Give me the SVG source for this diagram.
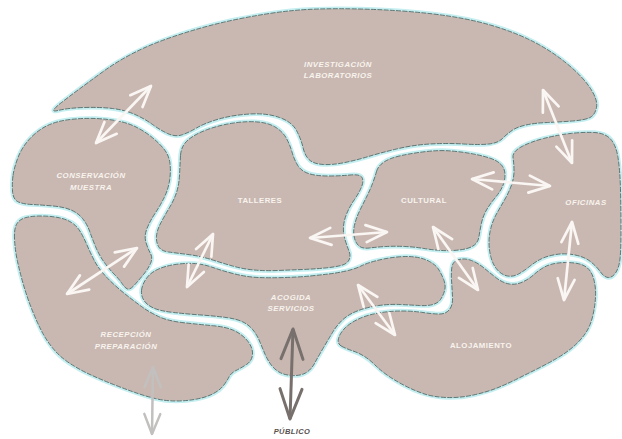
<svg xmlns="http://www.w3.org/2000/svg" xmlns:xlink="http://www.w3.org/1999/xlink" width="622" height="439" viewBox="0 0 622 439">
<style>
.halo{fill:none;stroke:#c4eef0;stroke-width:4.5;stroke-linejoin:round}
.shape{fill:#c9b8b1;stroke:#3f5f5e;stroke-width:0.8;stroke-dasharray:5 1.3;stroke-linejoin:round}
.lbl{font-family:"Liberation Sans",Arial,sans-serif;font-size:7.8px;font-weight:bold;fill:#f8f3ee;text-anchor:middle;letter-spacing:0.5px}
.it{font-style:italic}
.wa{fill:none;stroke:#faf6f3;stroke-width:2.7;marker-start:url(#mw);marker-end:url(#mw)}
</style>
<defs>
<marker id="mw" markerUnits="userSpaceOnUse" viewBox="-30 -20 40 40" markerWidth="40" markerHeight="40" refX="0" refY="0" orient="auto-start-reverse" overflow="visible">
<path d="M-21,-8.5 L0,0 L-21,8.5" fill="none" stroke="#faf6f3" stroke-width="2.7" stroke-linecap="round" stroke-linejoin="round"/>
</marker>
<marker id="mg" markerUnits="userSpaceOnUse" viewBox="-40 -20 50 40" markerWidth="50" markerHeight="40" refX="0" refY="0" orient="auto-start-reverse" overflow="visible">
<path d="M-30,-11 L0,0 L-30,11" fill="none" stroke="#77706d" stroke-width="3" stroke-linecap="round" stroke-linejoin="round"/>
</marker>
<marker id="ml" markerUnits="userSpaceOnUse" viewBox="-30 -20 40 40" markerWidth="40" markerHeight="40" refX="0" refY="0" orient="auto-start-reverse" overflow="visible">
<path d="M-20,-8 L0,0 L-20,8" fill="none" stroke="#c2c0bf" stroke-width="2.5" stroke-linecap="round" stroke-linejoin="round"/>
</marker>
<path id="d-inv" d="M58,110.5 Q48,113 61.5,102.5 Q75,92 102.5,72 Q130,52 165,39.5 Q200,27 233.5,20 Q267,13 293.5,10.5 Q320,8 360,9 Q400,10 433.5,14 Q467,18 492,25.5 Q517,33 535,42.5 Q553,52 568,64.5 Q583,77 590.5,88.5 Q598,100 596.5,107.5 Q595,115 590,117.5 Q585,120 572.5,121 Q560,122 547.5,122.5 Q535,123 526,125 Q517,127 512,130.5 Q507,134 502.5,138.5 Q498,143 489,144 Q480,145 463.5,144 Q447,143 430,144 Q413,145 396.5,149 Q380,153 368.5,156.5 Q357,160 345,162.5 Q333,165 323.5,164.5 Q314,164 309.5,160 Q305,156 303,147.5 Q301,139 296.5,130.5 Q292,122 279.5,117.5 Q267,113 250,114 Q233,115 219,119 Q205,123 196.5,128 Q188,133 181.5,135 Q175,137 167.5,133.5 Q160,130 152.5,124.5 Q145,119 135,114.5 Q125,110 112.5,108.5 Q100,107 84,107.5 Q68,108 58,110.5 Z"/>
<path id="d-con" d="M13,175.5 Q14,168 18,157.5 Q22,147 30,138.5 Q38,130 47.5,125.5 Q57,121 70,119.5 Q83,118 95.5,118.5 Q108,119 118,121 Q128,123 136,127 Q144,131 151,136.5 Q158,142 163.5,148.5 Q169,155 170,163.5 Q171,172 169.5,181 Q168,190 164,198 Q160,206 155,213.5 Q150,221 147,228.5 Q144,236 146,242.5 Q148,249 150.5,253.5 Q153,258 150.5,263.5 Q148,269 143.5,274.5 Q139,280 134.5,285 Q130,290 127.5,289 Q125,288 122,283.5 Q119,279 114,274 Q109,269 104,262 Q99,255 95.5,246.5 Q92,238 89.5,231 Q87,224 82.5,218.5 Q78,213 71,210 Q64,207 53,206 Q42,205 32,204.5 Q22,204 17.5,201.5 Q13,199 12.5,191 Q12,183 13,175.5 Z"/>
<path id="d-tal" d="M180.5,155.5 Q181,146 188,140 Q195,134 207.5,129.5 Q220,125 233.5,123 Q247,121 258,122 Q269,123 276,127.5 Q283,132 286.5,138.5 Q290,145 292,152 Q294,159 297.5,165 Q301,171 308.5,173.5 Q316,176 328,176 Q340,176 350,175 Q360,174 362,177.5 Q364,181 361.5,187 Q359,193 354.5,199.5 Q350,206 347,213 Q344,220 343.5,226.5 Q343,233 345,239.5 Q347,246 349,251 Q351,256 349,260 Q347,264 341,265.5 Q335,267 325,268 Q315,269 302.5,269.5 Q290,270 277.5,270.5 Q265,271 254,270 Q243,269 232.5,266 Q222,263 211,259.5 Q200,256 188,254.5 Q176,253 168.5,252 Q161,251 158.5,246.5 Q156,242 156.5,236 Q157,230 161,222.5 Q165,215 169.5,207.5 Q174,200 176.5,192.5 Q179,185 179.5,175 Q180,165 180.5,155.5 Z"/>
<path id="d-cul" d="M376.5,171.5 Q378,166 384,162 Q390,158 401.5,155.5 Q413,153 426.5,151.5 Q440,150 451.5,151 Q463,152 473.5,154 Q484,156 491,158.5 Q498,161 501.5,165 Q505,169 505,175 Q505,181 502.5,186.5 Q500,192 495,198 Q490,204 486.5,210 Q483,216 481.5,223 Q480,230 479,236.5 Q478,243 473,246 Q468,249 459,250 Q450,251 441.5,250.5 Q433,250 424,248.5 Q415,247 405,246.5 Q395,246 386,246.5 Q377,247 369.5,248 Q362,249 358.5,245.5 Q355,242 354,236 Q353,230 355,223 Q357,216 360.5,209 Q364,202 367,196 Q370,190 372.5,183.5 Q375,177 376.5,171.5 Z"/>
<path id="d-ofi" d="M513,158 Q512,152 521,147 Q530,142 543.5,138.5 Q557,135 570,133.5 Q583,132 594,132.5 Q605,133 610.5,139 Q616,145 618,157.5 Q620,170 620.5,190 Q621,210 621,230 Q621,250 620,259 Q619,268 615.5,273 Q612,278 608,277.5 Q604,277 600.5,272 Q597,267 591,262 Q585,257 575,255 Q565,253 556,254.5 Q547,256 541,259 Q535,262 529.5,266.5 Q524,271 518.5,274 Q513,277 507.5,276 Q502,275 497.5,270 Q493,265 491,257.5 Q489,250 489,242.5 Q489,235 491,227.5 Q493,220 497,213 Q501,206 505,199 Q509,192 511.5,185 Q514,178 514,171 Q514,164 513,158 Z"/>
<path id="d-aco" d="M141.5,290.5 Q142,285 146,279 Q150,273 157.5,269.5 Q165,266 175,264.5 Q185,263 194,263.5 Q203,264 213,267.5 Q223,271 235,274 Q247,277 258.5,277.5 Q270,278 285,277.5 Q300,277 310,276 Q320,275 328.5,274 Q337,273 346,271 Q355,269 361,266 Q367,263 377,260.5 Q387,258 397,257 Q407,256 415,257 Q423,258 429.5,261.5 Q436,265 439,270 Q442,275 444,280.5 Q446,286 444.5,291 Q443,296 440.5,299.5 Q438,303 433,304.5 Q428,306 419,305.5 Q410,305 400,304.5 Q390,304 379,305.5 Q368,307 358.5,310.5 Q349,314 343,319.5 Q337,325 332.5,332.5 Q328,340 323,348.5 Q318,357 314.5,363.5 Q311,370 305.5,373 Q300,376 292,375.5 Q284,375 279,372 Q274,369 270.5,364 Q267,359 264.5,353 Q262,347 259.5,341 Q257,335 253,330 Q249,325 243,322 Q237,319 226,317.5 Q215,316 201,315 Q187,314 173.5,312.5 Q160,311 153.5,308 Q147,305 144,300.5 Q141,296 141.5,290.5 Z"/>
<path id="d-rec" d="M14.5,239 Q14,228 17,223.5 Q20,219 26,217.5 Q32,216 41,216 Q50,216 58,217.5 Q66,219 71.5,222.5 Q77,226 80.5,232 Q84,238 87,245 Q90,252 93.5,259 Q97,266 102,272 Q107,278 113.5,284 Q120,290 127,295.5 Q134,301 141.5,306.5 Q149,312 158.5,316.5 Q168,321 184,322.75 Q200,324.5 213.5,325.75 Q227,327 235,331 Q243,335 248,341.5 Q253,348 252.5,354.5 Q252,361 246.5,364.5 Q241,368 236,370.5 Q231,373 229,377 Q227,381 223.5,385.5 Q220,390 213.5,393.5 Q207,397 197,399 Q187,401 176,401 Q165,401 155,398.5 Q145,396 135,392.5 Q125,389 113.5,384.5 Q102,380 91,375 Q80,370 70,363.5 Q60,357 53,348.5 Q46,340 41,330 Q36,320 31.5,308.5 Q27,297 23.5,285 Q20,273 17.5,261.5 Q15,250 14.5,239 Z"/>
<path id="d-alo" d="M342,346.5 Q337,344 338.5,338.5 Q340,333 345,328 Q350,323 358.5,319 Q367,315 378.5,313 Q390,311 401.5,311 Q413,311 423,312.5 Q433,314 439.5,314 Q446,314 449.5,309.5 Q453,305 452.5,296.5 Q452,288 451.5,280 Q451,272 452,266.5 Q453,261 459,259.5 Q465,258 471.5,260.5 Q478,263 484,268 Q490,273 496.5,278 Q503,283 509.5,284 Q516,285 522.5,282 Q529,279 534,274.5 Q539,270 544.5,267 Q550,264 558,263 Q566,262 574.5,263 Q583,264 587.5,268 Q592,272 594,280 Q596,288 595.5,297.5 Q595,307 592.5,317 Q590,327 585,334 Q580,341 573,347 Q566,353 556.5,358.5 Q547,364 537,369 Q527,374 517,379 Q507,384 497,388 Q487,392 473.5,395 Q460,398 446.5,397.5 Q433,397 423,393.5 Q413,390 403.5,385 Q394,380 387,375 Q380,370 375,365 Q370,360 364.5,356.5 Q359,353 353,351 Q347,349 342,346.5 Z"/>
</defs>
<rect width="622" height="439" fill="#ffffff"/>
<g id="halos">
<use xlink:href="#d-inv" class="halo"/>
<use xlink:href="#d-con" class="halo"/>
<use xlink:href="#d-tal" class="halo"/>
<use xlink:href="#d-cul" class="halo"/>
<use xlink:href="#d-ofi" class="halo"/>
<use xlink:href="#d-aco" class="halo"/>
<use xlink:href="#d-rec" class="halo"/>
<use xlink:href="#d-alo" class="halo"/>
</g>
<g id="investigacion">
<use xlink:href="#d-inv" class="shape"/>
<text class="lbl it" x="338" y="67">INVESTIGACIÓN</text>
<text class="lbl it" x="338" y="78">LABORATORIOS</text>
</g>
<g id="conservacion">
<use xlink:href="#d-con" class="shape"/>
<text class="lbl it" x="91" y="178">CONSERVACIÓN</text>
<text class="lbl it" x="91" y="190">MUESTRA</text>
</g>
<g id="talleres">
<use xlink:href="#d-tal" class="shape"/>
<text class="lbl" x="260" y="203">TALLERES</text>
</g>
<g id="cultural">
<use xlink:href="#d-cul" class="shape"/>
<text class="lbl" x="424" y="203">CULTURAL</text>
</g>
<g id="oficinas">
<use xlink:href="#d-ofi" class="shape"/>
<text class="lbl it" x="586" y="205">OFICINAS</text>
</g>
<g id="acogida">
<use xlink:href="#d-aco" class="shape"/>
<text class="lbl it" x="291" y="300">ACOGIDA</text>
<text class="lbl it" x="291" y="311">SERVICIOS</text>
</g>
<g id="recepcion">
<use xlink:href="#d-rec" class="shape"/>
<text class="lbl it" x="126" y="337">RECEPCIÓN</text>
<text class="lbl it" x="126" y="349">PREPARACIÓN</text>
</g>
<g id="alojamiento">
<use xlink:href="#d-alo" class="shape"/>
<text class="lbl" x="481" y="348">ALOJAMIENTO</text>
</g>
<g id="publico">
<text x="292" y="434" font-family="Liberation Sans, Arial, sans-serif" font-size="7.5" font-weight="bold" font-style="italic" fill="#5a5250" text-anchor="middle" letter-spacing="0.4">PÚBLICO</text>
</g>
<g id="connectors">
<line class="wa" x1="96" y1="143" x2="151" y2="86"/>
<line class="wa" x1="67" y1="294" x2="137" y2="248"/>
<line class="wa" x1="187" y1="287" x2="213" y2="234"/>
<line class="wa" x1="310" y1="238" x2="387" y2="232"/>
<line class="wa" x1="472" y1="179" x2="550" y2="186"/>
<line class="wa" x1="543" y1="90" x2="572" y2="163"/>
<line class="wa" x1="433" y1="227" x2="478" y2="290"/>
<line class="wa" x1="572" y1="222" x2="564" y2="300"/>
<line class="wa" x1="358" y1="285" x2="395" y2="335"/>
<line x1="293" y1="329" x2="290" y2="419" stroke="#77706d" stroke-width="3" marker-start="url(#mg)" marker-end="url(#mg)"/>
<line x1="153" y1="367" x2="152" y2="434" stroke="#c2c0bf" stroke-width="2.5" marker-start="url(#ml)" marker-end="url(#ml)"/>
</g>
</svg>
